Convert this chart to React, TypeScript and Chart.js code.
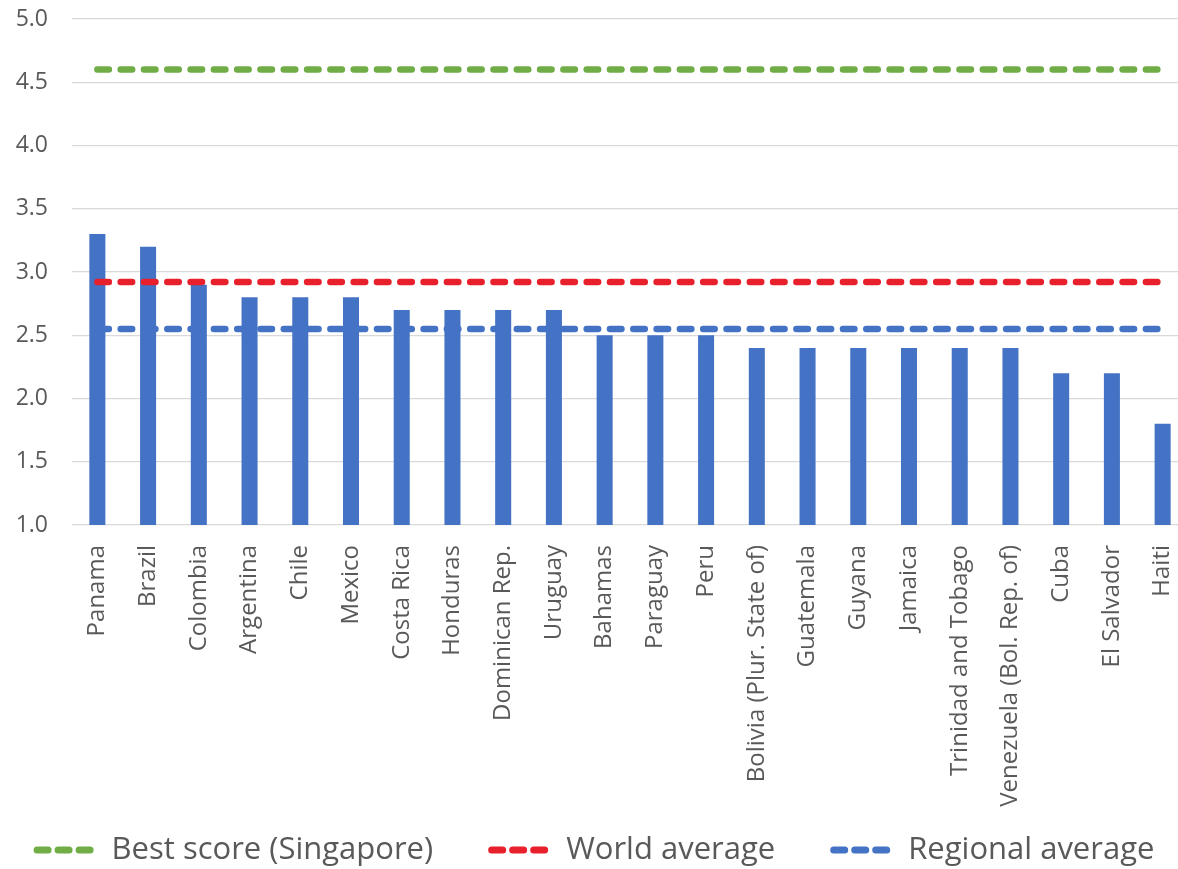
import React, { useEffect, useRef } from 'react';
import { Chart, registerables } from 'chart.js';

Chart.register(...registerables);

const countries = [
  'Panama', 'Brazil', 'Colombia', 'Argentina', 'Chile', 'Mexico', 'Costa Rica',
  'Honduras', 'Dominican Rep.', 'Uruguay', 'Bahamas', 'Paraguay', 'Peru',
  'Bolivia (Plur. State of)', 'Guatemala', 'Guyana', 'Jamaica',
  'Trinidad and Tobago', 'Venezuela (Bol. Rep. of)', 'Cuba', 'El Salvador', 'Haiti',
];
const scores = [3.3, 3.2, 2.9, 2.8, 2.8, 2.8, 2.7, 2.7, 2.7, 2.7, 2.5, 2.5, 2.5, 2.4, 2.4, 2.4, 2.4, 2.4, 2.4, 2.2, 2.2, 1.8];

const bestScore = 4.6;
const worldAverage = 2.92;
const regionalAverage = 2.55;

const lineLabels = ['Best score (Singapore)', 'World average', 'Regional average'];
const lineColors = ['#70AD47', '#E8202B', '#4472C4'];
const lineValues = [bestScore, worldAverage, regionalAverage];

const yMin = 1.0;
const yMax = 5.0;
const yStep = 0.5;

const W = 1188;
const H = 869;

const legendPlugin = {
  id: 'dashLegend',
  afterDraw(chart: any) {
    const ctx = chart.ctx as CanvasRenderingContext2D;
    ctx.save();
    ctx.font = '31px "Open Sans"';
    const items = chart.data.datasets.filter((d: any) => d.type === 'line');
    const symW = 60;
    const gapText = 18;
    const gapItem = 55;
    const widths = items.map((d: any) => symW + gapText + ctx.measureText(d.label).width);
    const total = widths.reduce((a: number, b: number) => a + b, 0) + gapItem * (items.length - 1);
    let x = 594 - total / 2;
    const y = 850;
    items.forEach((d: any, i: number) => {
      ctx.strokeStyle = d.borderColor;
      ctx.lineWidth = 7;
      ctx.lineCap = 'round';
      ctx.setLineDash([]);
      for (let k = 0; k < 3; k++) {
        const s = x + 3.5 + k * 21;
        ctx.beginPath();
        ctx.moveTo(s, y);
        ctx.lineTo(s + 11, y);
        ctx.stroke();
      }
      ctx.fillStyle = '#595959';
      ctx.textBaseline = 'middle';
      ctx.textAlign = 'left';
      ctx.fillText(d.label, x + symW + gapText, y);
      x += widths[i] + gapItem;
    });
    ctx.restore();
  },
};

export default function App() {
  const ref = useRef<HTMLCanvasElement | null>(null);

  useEffect(() => {
    if (!ref.current) return;
    const lineSets = lineLabels.map((label, i) => ({
      type: 'line' as const,
      label,
      data: [
        { x: countries[0], y: lineValues[i] },
        { x: countries[countries.length - 1], y: lineValues[i] },
      ],
      borderColor: lineColors[i],
      backgroundColor: lineColors[i],
      borderWidth: 6.5,
      borderDash: [11.5, 11.8],
      borderCapStyle: 'round' as const,
      pointRadius: 0,
      order: 0,
    }));
    const chart = new Chart(ref.current, {
      type: 'bar',
      data: {
        labels: countries,
        datasets: [
          ...lineSets,
          {
            type: 'bar' as const,
            label: 'Score',
            data: scores,
            backgroundColor: '#4472C4',
            barPercentage: 0.316,
            categoryPercentage: 1,
            order: 1,
          },
        ] as any,
      },
      options: {
        animation: false,
        responsive: false,
        layout: { padding: { top: 19, left: 0, right: 0, bottom: 54 } },
        plugins: {
          legend: { display: false },
          tooltip: { enabled: false },
        },
        scales: {
          x: {
            offset: true,
            grid: { display: false, drawTicks: false },
            border: { display: false },
            ticks: {
              autoSkip: false,
              maxRotation: 90,
              minRotation: 90,
              padding: 20,
              color: '#595959',
              font: { family: '"Open Sans"', size: 24 },
            },
            afterFit: (scale: any) => {
              scale.height = 290;
              scale.paddingLeft = 0;
              scale.paddingRight = 0;
            },
          },
          y: {
            min: yMin,
            max: yMax,
            grid: { color: '#D9D9D9', lineWidth: 1.3, drawTicks: false },
            border: { display: false },
            ticks: {
              stepSize: yStep,
              padding: 24,
              color: '#595959',
              font: { family: '"Open Sans"', size: 23 },
              callback: (v: any) => Number(v).toFixed(1),
            },
            afterFit: (scale: any) => {
              scale.width = 72;
              scale.paddingTop = 0;
              scale.paddingBottom = 0;
            },
          },
        },
      },
      plugins: [legendPlugin],
    });
    return () => chart.destroy();
  }, []);

  return (
    <div style={{ position: 'absolute', left: 0, top: 0, width: 1178, height: 869, overflow: 'hidden', background: '#fff' }}>
      <canvas ref={ref} width={W} height={H} style={{ display: 'block', width: W, height: H }} />
    </div>
  );
}
